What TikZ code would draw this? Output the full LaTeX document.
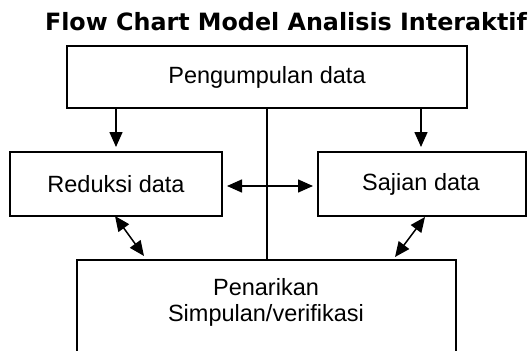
\documentclass[tikz,border=0pt]{standalone}
\usepackage{fontspec}
\setmainfont{Liberation Sans}
\newfontfamily\titlefont{DejaVu Sans}
\usetikzlibrary{arrows.meta}
\begin{document}
\begin{tikzpicture}[x=1pt,y=-1pt,
  box/.style={draw,line width=1.7pt,inner sep=0pt},
  lbl/.style={font=\fontsize{23.5}{26}\selectfont,align=center,inner sep=0pt},
  conn/.style={line width=1.5pt},
  arr/.style={conn,-{Triangle[length=15pt,width=13pt]}},
  darr/.style={conn,{Triangle[length=15pt,width=13pt]}-{Triangle[length=15pt,width=13pt]}}]
\useasboundingbox (0,0) rectangle (528,351);
\clip (0,0) rectangle (528,351);
% title
\node[inner sep=0pt,font=\titlefont\bfseries\fontsize{23.8}{26}\selectfont] (title) at (286,22) {Flow Chart Model Analisis Interaktif};
% boxes
\draw[box] (67,46) rectangle (467,108);
\node[lbl] (top) at (267,77) {Pengumpulan data};
\draw[box] (10,152) rectangle (222,216);
\node[lbl] (red) at (116,184) {Reduksi data};
\draw[box] (318,152) rectangle (526,216);
\node[lbl] (saj) at (421,184) {Sajian data};
\draw[box] (77,260) rectangle (456,370);
\node[lbl,anchor=base] (pen1) at (266,295) {Penarikan};
\node[lbl,anchor=base] (pen2) at (266,321) {Simpulan/verifikasi};
% connector endpoints
\coordinate (t1) at (116,108);
\coordinate (t1e) at (116,147);
\coordinate (t2) at (421,108);
\coordinate (t2e) at (421,147);
\coordinate (tm) at (267,108);
\coordinate (bm) at (267,260);
\coordinate (ha) at (227,186);
\coordinate (hb) at (313,186);
\coordinate (la) at (115,216);
\coordinate (lb) at (144,256);
\coordinate (ra) at (425,217);
\coordinate (rb) at (395,257);
% connectors
\draw[arr] (t1) -- (t1e);
\draw[arr] (t2) -- (t2e);
\draw[conn] (tm) -- (bm);
\draw[darr] (ha) -- (hb);
\draw[darr] (la) -- (lb);
\draw[darr] (ra) -- (rb);
\end{tikzpicture}
\end{document}
